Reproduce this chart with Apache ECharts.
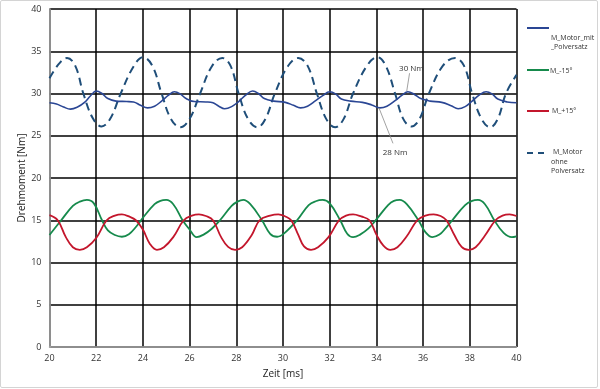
<!DOCTYPE html>
<html><head><meta charset="utf-8">
<script src="https://cdn.jsdelivr.net/npm/echarts@6/dist/echarts.min.js"></script>
<style>
html,body{margin:0;padding:0;background:#fff;}
#frame{position:absolute;left:0;top:0;width:596px;height:386px;border:1px solid #d4d4d4;border-radius:2px;}
#c{position:absolute;left:0;top:0;width:600px;height:389px;}
</style></head>
<body><div id="frame"></div><div id="c"></div>
<script>
// ---- data (x = Zeit [ms], y = Drehmoment [Nm]) ----
const xTicks = [20,22,24,26,28,30,32,34,36,38,40];
const yTicks = [0,5,10,15,20,25,30,35,40];

const motorMit = [[20,28.9],[20.3,28.75],[20.6,28.4],[20.9,28.15],[21.2,28.4],[21.5,28.95],[21.75,29.7],[22.0,30.3],[22.25,30.0],[22.5,29.4],[22.85,29.1],[23.3,29.05],[23.6,29.0],[23.9,28.6],[24.2,28.3],[24.5,28.5],[24.8,29.1],[25.1,29.8],[25.35,30.2],[25.6,29.95],[25.85,29.4],[26.2,29.05],[26.7,29.0],[27.0,28.9],[27.25,28.5],[27.5,28.2],[27.8,28.45],[28.1,29.05],[28.4,29.8],[28.7,30.3],[28.95,30.0],[29.2,29.4],[29.6,29.1],[30.1,28.95],[30.45,28.6],[30.75,28.3],[31.05,28.5],[31.4,29.15],[31.7,29.75],[32.0,30.2],[32.25,29.95],[32.5,29.35],[32.9,29.1],[33.4,28.95],[33.8,28.65],[34.15,28.3],[34.45,28.5],[34.8,29.15],[35.1,29.8],[35.35,30.2],[35.6,29.95],[35.9,29.4],[36.3,29.1],[36.8,28.95],[37.2,28.55],[37.5,28.2],[37.8,28.45],[38.1,29.1],[38.4,29.8],[38.7,30.2],[38.95,29.95],[39.2,29.35],[39.6,29.0],[40,28.9]];

const mMinus15 = [[20,13.25],[20.5,15.0],[21.0,16.7],[21.3,17.2],[21.6,17.4],[21.9,17.0],[22.25,15.0],[22.5,13.8],[22.8,13.25],[23.1,13.05],[23.4,13.35],[23.7,14.2],[24.0,15.3],[24.5,16.9],[24.75,17.3],[25.0,17.4],[25.3,16.9],[25.7,15.0],[26.0,13.9],[26.3,13.0],[26.6,13.3],[26.95,14.0],[27.3,15.0],[27.8,16.7],[28.05,17.2],[28.3,17.4],[28.6,16.9],[29.1,15.0],[29.45,13.4],[29.75,13.05],[30.05,13.45],[30.6,15.0],[31.1,16.8],[31.4,17.25],[31.7,17.4],[32.0,17.0],[32.45,15.0],[32.75,13.4],[33.0,13.0],[33.3,13.3],[33.65,14.0],[34.0,15.1],[34.5,16.8],[34.75,17.3],[35.0,17.4],[35.3,16.9],[35.8,15.0],[36.1,13.6],[36.4,13.0],[36.7,13.3],[36.95,14.0],[37.25,15.0],[37.8,16.8],[38.1,17.3],[38.35,17.4],[38.65,16.9],[39.05,15.0],[39.45,13.5],[39.8,13.0],[40,13.1]];

const mPlus15 = [[20,15.6],[20.35,15.0],[20.7,13.0],[21.0,11.8],[21.3,11.5],[21.6,11.8],[22.0,12.9],[22.45,15.0],[22.8,15.55],[23.1,15.7],[23.4,15.45],[23.7,15.0],[24.0,13.9],[24.3,12.2],[24.6,11.5],[24.9,11.8],[25.3,13.0],[25.75,15.0],[26.1,15.55],[26.4,15.7],[26.7,15.5],[27.0,15.0],[27.35,13.0],[27.65,11.85],[27.95,11.5],[28.25,11.8],[28.65,13.2],[29.0,15.0],[29.45,15.55],[29.8,15.7],[30.1,15.45],[30.35,15.0],[30.65,13.3],[30.9,11.9],[31.2,11.5],[31.5,11.8],[31.95,13.0],[32.4,15.0],[32.7,15.55],[33.0,15.7],[33.35,15.45],[33.7,15.0],[34.0,13.3],[34.3,12.0],[34.6,11.5],[34.9,11.8],[35.3,13.1],[35.75,15.0],[36.1,15.55],[36.45,15.7],[36.75,15.5],[37.0,15.0],[37.35,13.2],[37.65,11.85],[37.95,11.5],[38.25,11.8],[38.65,13.2],[39.1,15.0],[39.4,15.55],[39.7,15.7],[40,15.5]];

const motorOhne = [[20,31.8],[20.4,33.5],[20.75,34.2],[21.1,33.3],[21.45,30.0],[21.85,27.1],[22.23,26.1],[22.6,27.0],[23.05,30.0],[23.6,33.2],[24.0,34.3],[24.4,33.3],[24.8,30.0],[25.2,27.0],[25.6,26.0],[26.0,27.0],[26.45,30.0],[26.95,33.2],[27.4,34.2],[27.75,33.3],[28.1,30.0],[28.5,27.0],[28.9,26.0],[29.25,27.0],[29.65,30.0],[30.2,33.2],[30.65,34.2],[31.05,33.3],[31.45,30.0],[31.85,27.0],[32.23,26.0],[32.6,27.0],[33.0,30.0],[33.6,33.3],[34.05,34.3],[34.4,33.3],[34.8,30.0],[35.15,27.0],[35.5,26.1],[35.85,27.0],[36.25,30.0],[36.85,33.3],[37.37,34.2],[37.75,33.3],[38.1,30.0],[38.5,27.0],[38.87,26.0],[39.2,27.0],[39.55,30.0],[40,32.2]];

const seriesNames = ['M_Motor_mit\n_Polversatz','M_-15°','M_+15°','M_Motor\nohne\nPolversatz'];
// annotations: [label, label position, leader start, leader end]
const annoLabels = ['30 Nm','28 Nm'];
const annoText = [[35.5,32.9],[34.8,23.0]];
const annoLeader = [[[35.3,30.3],[35.42,32.4]],[[34.11,28.3],[34.71,24.1]]];

const C_MIT='#2a4694', C_GREEN='#168a4c', C_RED='#c3162c', C_OHNE='#1f4e79';
const FONT='Open Sans';

const chart = echarts.init(document.getElementById('c'));
const legendItems = [
  {y:28, color:C_MIT, dash:null, lines:[{t:'M_Motor_mit',x:551,y:38},{t:'_Polversatz',x:551,y:47}]},
  {y:70, color:C_GREEN, dash:null, lines:[{t:'M_-15°',x:550,y:71}]},
  {y:111, color:C_RED, dash:null, lines:[{t:'M_+15°',x:552,y:111}]},
  {y:153, color:C_OHNE, dash:[6,5], lines:[{t:'M_Motor',x:553,y:152},{t:'ohne',x:551,y:162},{t:'Polversatz',x:551,y:171}]}
];
const graphic = [];
legendItems.forEach(it=>{
  graphic.push({type:'line',shape:{x1:527,y1:it.y,x2:549,y2:it.y},style:{stroke:it.color,lineWidth:2,lineDash:it.dash||null}});
  it.lines.forEach(l=>graphic.push({type:'text',x:l.x,y:l.y,style:{text:l.t,fill:'#333',font:'7px '+FONT,textVerticalAlign:'middle'}}));
});

const SM = 0.4;
chart.setOption({
  animation:false,
  grid:{left:49.5,right:83.5,top:9,bottom:42},
  graphic:graphic,
  xAxis:{type:'value',min:20,max:40,interval:2,
    name:'Zeit [ms]',nameLocation:'middle',nameGap:22,nameMoveOverlap:false,
    nameTextStyle:{color:'#222',fontSize:10,fontFamily:FONT},
    axisLine:{show:true,onZero:false,lineStyle:{color:'#a8a8a8',width:1.5}},
    axisTick:{show:false},
    axisLabel:{color:'#333',fontSize:9,fontFamily:FONT,margin:7},
    splitLine:{show:true,lineStyle:{color:'#000',width:1.5}}},
  yAxis:{type:'value',min:0,max:40,interval:5,
    name:'Drehmoment [Nm]',nameLocation:'middle',nameGap:22,nameMoveOverlap:false,
    nameTextStyle:{color:'#222',fontSize:10,fontFamily:FONT},
    axisLine:{show:true,lineStyle:{color:'#a8a8a8',width:1.5}},
    axisTick:{show:false},
    axisLabel:{color:'#333',fontSize:9,fontFamily:FONT,margin:8},
    splitLine:{show:true,lineStyle:{color:'#000',width:1.5}}},
  series:[
    {name:seriesNames[3],type:'line',data:motorOhne,smooth:SM,symbol:'none',z:3,
      lineStyle:{color:C_OHNE,width:2,type:[8,5]}},
    {name:seriesNames[0],type:'line',data:motorMit,smooth:SM,symbol:'none',z:4,
      lineStyle:{color:C_MIT,width:1.6},
      markLine:{silent:true,symbol:'none',label:{show:false},
        lineStyle:{color:'#8a8a8a',width:0.8,type:'solid'},
        data:annoLeader.map(p=>[{coord:p[0]},{coord:p[1]}])},
      markPoint:{silent:true,symbol:'circle',symbolSize:0,
        label:{show:true,color:'#333',fontSize:8,fontFamily:FONT,formatter:p=>p.name},
        data:annoLabels.map((t,i)=>({name:t,coord:annoText[i]}))}},
    {name:seriesNames[1],type:'line',data:mMinus15,smooth:SM,symbol:'none',z:4,
      lineStyle:{color:C_GREEN,width:1.8}},
    {name:seriesNames[2],type:'line',data:mPlus15,smooth:SM,symbol:'none',z:4,
      lineStyle:{color:C_RED,width:1.8}}
  ]
});
</script></body></html>
